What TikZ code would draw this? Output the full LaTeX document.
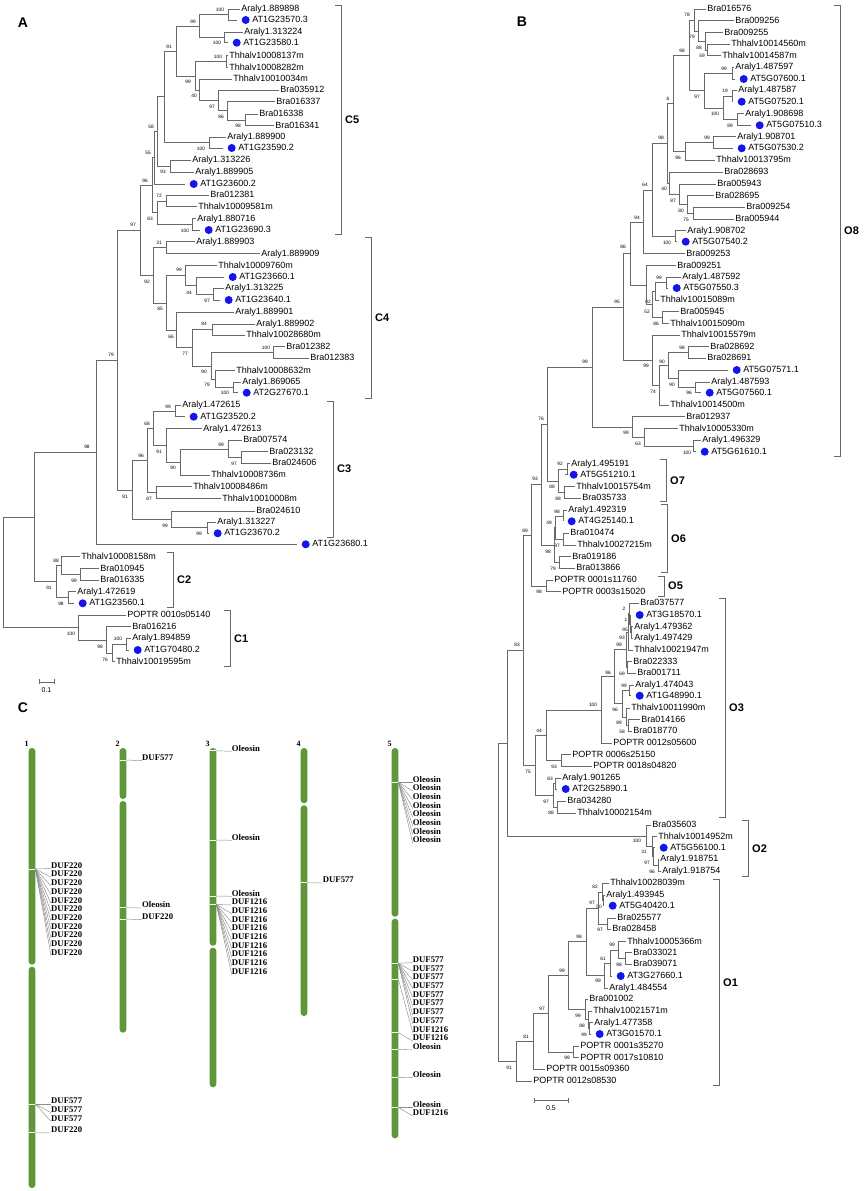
\documentclass[tikz,border=0pt]{standalone}
\usepackage{fontspec}
\setmainfont{Liberation Sans}
\newfontfamily\chrfont{Liberation Serif}

\definecolor{treeline}{RGB}{105,105,105}
\definecolor{atblue}{RGB}{20,20,235}
\definecolor{chrgreen}{RGB}{95,150,60}
\definecolor{leadergray}{RGB}{140,140,140}

\tikzset{
  leaf/.style={anchor=west, inner sep=1.2pt, text height=6.5pt, text depth=1.8pt, font=\fontsize{9}{10}\selectfont},
  atleaf/.style={leaf, execute at begin node={\hspace*{14pt}},
    path picture={\fill[atblue] ([xshift=8.5pt]path picture bounding box.west) circle (4pt);}},
  boot/.style={inner sep=0pt, font=\fontsize{4.8}{5}\selectfont},
  branch/.style={draw=treeline, line width=0.6pt},
  bracket/.style={draw=treeline, line width=0.8pt},
  clade/.style={anchor=west, inner sep=0pt, font=\bfseries\fontsize{11}{12}\selectfont},
  panel/.style={inner sep=0pt, font=\bfseries\fontsize{14}{16}\selectfont},
  scalelbl/.style={inner sep=0pt, font=\fontsize{7}{8}\selectfont},
  chrom/.style={fill=chrgreen, rounded corners=3.3pt},
  chrnum/.style={inner sep=0pt, font=\chrfont\bfseries\fontsize{8}{9}\selectfont},
  chrlbl/.style={anchor=south west, inner sep=0pt, font=\chrfont\bfseries\fontsize{8.7}{9}\selectfont},
  marktick/.style={draw=white, line width=0.6pt},
  leader/.style={draw=leadergray, line width=0.45pt}
}

\begin{document}
\begin{tikzpicture}[x=1pt, y=-1pt]
  \useasboundingbox (0,0) rectangle (863,1191);

  % panel letters
  \node[panel] (pA) at (23,23) {A};
  \node[panel] (pB) at (522,22) {B};
  \node[panel] (pC) at (23,708) {C};

  % ---------- A: leaves ----------
  \foreach \n/\x/\y/\t/\s in {
      a1/240/9/Araly1.889898/leaf, a2/237/20/AT1G23570.3/atleaf,
      a3/243/32.3/Araly1.313224/leaf, a4/228/42.7/AT1G23580.1/atleaf,
      a5/228/55.7/Thhalv10008137m/leaf, a6/228/67.7/Thhalv10008282m/leaf,
      a7/232/79.3/Thhalv10010034m/leaf, a8/279/90.3/Bra035912/leaf,
      a9/275/101.7/Bra016337/leaf, a10/258/114/Bra016338/leaf,
      a11/274/125.7/Bra016341/leaf, a12/226/137/Araly1.889900/leaf,
      a13/223/148/AT1G23590.2/atleaf, a14/191/160.3/Araly1.313226/leaf,
      a15/194/172/Araly1.889905/leaf, a16/185/184/AT1G23600.2/atleaf,
      a17/209/195/Bra012381/leaf, a18/197/206.7/Thhalv10009581m/leaf,
      a19/196/218.7/Araly1.880716/leaf, a20/200/230/AT1G23690.3/atleaf,
      a21/195/241.7/Araly1.889903/leaf, a22/260/253.7/Araly1.889909/leaf,
      a23/217/265.7/Thhalv10009760m/leaf, a24/224/277/AT1G23660.1/atleaf,
      a25/224/288.3/Araly1.313225/leaf, a26/220/300/AT1G23640.1/atleaf,
      a27/234/312.3/Araly1.889901/leaf, a28/255/324/Araly1.889902/leaf,
      a29/245/335/Thhalv10028680m/leaf, a30/285/346.7/Bra012382/leaf,
      a31/309/358.3/Bra012383/leaf, a32/235/370.7/Thhalv10008632m/leaf,
      a33/241/382/Araly1.869065/leaf, a34/238/392.7/AT2G27670.1/atleaf,
      a35/181/405.3/Araly1.472615/leaf, a36/185/416.7/AT1G23520.2/atleaf,
      a37/202/428.7/Araly1.472613/leaf, a38/242/440/Bra007574/leaf,
      a39/268/451.7/Bra023132/leaf, a40/271/463.3/Bra024606/leaf,
      a41/210/475/Thhalv10008736m/leaf, a42/192/486.7/Thhalv10008486m/leaf,
      a43/221/498.7/Thhalv10010008m/leaf, a44/255/511/Bra024610/leaf,
      a45/216/522/Araly1.313227/leaf, a46/209/533.3/AT1G23670.2/atleaf,
      a47/297/544.3/AT1G23680.1/atleaf, a48/80/556.7/Thhalv10008158m/leaf,
      a49/99/568.7/Bra010945/leaf, a50/99/580/Bra016335/leaf,
      a51/76/591.7/Araly1.472619/leaf, a52/74/603.3/AT1G23560.1/atleaf,
      a53/126/615/POPTR 0010s05140/leaf, a54/131/626.7/Bra016216/leaf,
      a55/131/638.3/Araly1.894859/leaf, a56/129/650/AT1G70480.2/atleaf,
      a57/115/661.7/Thhalv10019595m/leaf}
    \node[\s] (\n) at (\x,\y) {\t};

  % ---------- A: inner nodes, branches, bootstrap ----------
  \foreach \p/\x/\y/\ca/\cb/\bs/\bx/\by in {
      n1/228/14.5/a1/a2/100/220/10, n2/224/37.5/a3/a4/100/217/43,
      n3/199/26/n1/n2/99/193/22, n4/226/61.7/a5/a6/100/218/57,
      n5/245/119.8/a10/a11/98/238/126, n6/227/110.7/a9/n5/86/221/117,
      n7/218/100.5/a8/n6/97/212/107, n8/199/89.9/a7/n7/40/194/96,
      n9/195/75.8/n4/n8/99/188/82, n10/176/50.9/n3/n9/91/169/47,
      n11/209/142.5/a12/a13/100/201/149} {
    \coordinate (\p) at (\x,\y);
    \draw[branch] (\p) |- (\ca) (\p) |- (\cb);
    \node[boot] (b\p) at (\bx,\by) {\bs};
  }
  \coordinate (n12) at (164,96.7);
  \draw[branch] (n12) |- (n10) (n12) |- (n11);
  \foreach \p/\x/\y/\ca/\cb/\bs/\bx/\by in {
      n13/170/166.2/a14/a15/93/163/172, n14/157/131.4/n12/n13/58/151/127,
      n15/154/157.7/n14/a16/55/148/153, n16/166/200.8/a17/a18/72/159/196,
      n17/192/224.3/a19/a20/100/185/231, n18/157/212.6/n16/n17/83/150/219,
      n19/152/185.1/n15/n18/96/145/181, n20/166/247.7/a21/a22/31/159/243,
      n21/213/294.2/a25/a26/97/207/301, n22/196/285.6/a24/n21/44/189/293,
      n23/185/275.6/a23/n22/99/179/270, n24/212/329.5/a28/a29/84/204/324,
      n25/273/352.5/a30/a31/100/266/348, n26/233/387.3/a33/a34/100/225/393,
      n27/215/379/a32/n26/79/207/385, n28/211/365.8/n25/n27/90/204/372,
      n29/192/347.6/n24/n28/77/185/354, n30/176/330/a27/n29/66/171/337,
      n31/166/302.8/n23/n30/85/160/309, n32/153/275.2/n20/n31/92/147/282,
      n33/140/230.2/n19/n32/97/133/225, n34/175/411/a35/a36/99/168/407,
      n35/241/457.5/a39/a40/97/234/464, n36/228/448.8/a38/n35/99/221/445,
      n37/180/461.9/n36/a41/90/173/468, n38/166/445.3/a37/n37/91/159/452,
      n39/153/428.2/n34/n38/68/147/424, n40/156/492.7/a42/a43/87/149/499,
      n41/147/460.5/n39/n40/96/141/456, n42/207/527.7/a45/a46/99/199/534,
      n43/171/519.3/a44/n42/99/165/526, n44/132/489.9/n41/n43/81/125/497,
      n45/117/360.1/n33/n44/79/111/355, n46/96/452.2/n45/a47/98/87/447,
      n47/80/574.3/a49/a50/99/74/581, n48/61/565.5/a48/n47/88/56/561,
      n49/68/597.5/a51/a52/98/61/604, n50/56/581.5/n48/n49/91/49/588,
      n52/126/644.2/a55/a56/100/118/639, n53/112/653/n52/a57/76/105/660,
      n54/106/639.8/a54/n53/98/100/647, n55/78/627.4/a53/n54/100/71/634} {
    \coordinate (\p) at (\x,\y);
    \draw[branch] (\p) |- (\ca) (\p) |- (\cb);
    \node[boot] (b\p) at (\bx,\by) {\bs};
  }
  \coordinate (n51) at (34,516.9);
  \coordinate (n56) at (3,572.2);
  \draw[branch] (n51) |- (n46) (n51) |- (n50);
  \draw[branch] (n56) |- (n51) (n56) |- (n55);

  % ---------- B: leaves ----------
  \foreach \n/\x/\y/\t/\s in {
      b1/706/9/Bra016576/leaf, b2/734/20.7/Bra009256/leaf,
      b3/723/32.7/Bra009255/leaf, b4/730/44/Thhalv10014560m/leaf,
      b5/721/55.7/Thhalv10014587m/leaf, b6/734/67.3/Araly1.487597/leaf,
      b7/735/79/AT5G07600.1/atleaf, b8/737/90.3/Araly1.487587/leaf,
      b9/733/101.7/AT5G07520.1/atleaf, b10/744/113.7/Araly1.908698/leaf,
      b11/751/125.3/AT5G07510.3/atleaf, b12/736/136.7/Araly1.908701/leaf,
      b13/733/148.3/AT5G07530.2/atleaf, b14/715/160.3/Thhalv10013795m/leaf,
      b15/723/172/Bra028693/leaf, b16/716/184/Bra005943/leaf,
      b17/714/195.7/Bra028695/leaf, b18/745/207/Bra009254/leaf,
      b19/734/219/Bra005944/leaf, b20/686/230.7/Araly1.908702/leaf,
      b21/677/241.7/AT5G07540.2/atleaf, b22/685/253.7/Bra009253/leaf,
      b23/676/265.7/Bra009251/leaf, b24/681/277.3/Araly1.487592/leaf,
      b25/668/288/AT5G07550.3/atleaf, b26/659/300.3/Thhalv10015089m/leaf,
      b27/679/311.7/Bra005945/leaf, b28/669/323.7/Thhalv10015090m/leaf,
      b29/680/335/Thhalv10015579m/leaf, b30/709/346.7/Bra028692/leaf,
      b31/706/358.3/Bra028691/leaf, b32/728/370/AT5G07571.1/atleaf,
      b33/710/382/Araly1.487593/leaf, b34/701/392.7/AT5G07560.1/atleaf,
      b35/669/405/Thhalv10014500m/leaf, b36/685/416.7/Bra012937/leaf,
      b37/678/428.7/Thhalv10005330m/leaf, b38/701/440/Araly1.496329/leaf,
      b39/696/451.7/AT5G61610.1/atleaf, b40/570/463.7/Araly1.495191/leaf,
      b41/565/474.7/AT5G51210.1/atleaf, b42/575/486.7/Thhalv10015754m/leaf,
      b43/581/498.3/Bra035733/leaf, b44/567/510.3/Araly1.492319/leaf,
      b45/563/521.3/AT4G25140.1/atleaf, b46/569/533.3/Bra010474/leaf,
      b47/576/545/Thhalv10027215m/leaf, b48/571/556.7/Bra019186/leaf,
      b49/575/568.3/Bra013866/leaf, b50/553/580/POPTR 0001s11760/leaf,
      b51/561/591.7/POPTR 0003s15020/leaf, b52/639/603.3/Bra037577/leaf,
      b53/631/615/AT3G18570.1/atleaf, b54/633/626.7/Araly1.479362/leaf,
      b55/633/638.3/Araly1.497429/leaf, b56/633/650/Thhalv10021947m/leaf,
      b57/632/661.7/Bra022333/leaf, b58/636/673.3/Bra001711/leaf,
      b59/634/685/Araly1.474043/leaf, b60/631/695.7/AT1G48990.1/atleaf,
      b61/630/708/Thhalv10011990m/leaf, b62/640/719.7/Bra014166/leaf,
      b63/632/731.3/Bra018770/leaf, b64/612/743/POPTR 0012s05600/leaf,
      b65/571/754.7/POPTR 0006s25150/leaf, b66/592/766.3/POPTR 0018s04820/leaf,
      b67/561/778.3/Araly1.901265/leaf, b68/557/789/AT2G25890.1/atleaf,
      b69/566/801.3/Bra034280/leaf, b70/576/813.3/Thhalv10002154m/leaf,
      b71/651/825/Bra035603/leaf, b72/657/836.7/Thhalv10014952m/leaf,
      b73/655/847.7/AT5G56100.1/atleaf, b74/659/859.3/Araly1.918751/leaf,
      b75/661/871/Araly1.918754/leaf, b76/609/883.3/Thhalv10028039m/leaf,
      b77/605/895/Araly1.493945/leaf, b78/604/905.7/AT5G40420.1/atleaf,
      b79/616/918.3/Bra025577/leaf, b80/611/929.3/Bra028458/leaf,
      b81/626/941.7/Thhalv10005366m/leaf, b82/632/952.7/Bra033021/leaf,
      b83/632/964.3/Bra039071/leaf, b84/612/976/AT3G27660.1/atleaf,
      b85/608/988/Araly1.484554/leaf, b86/588/999.3/Bra001002/leaf,
      b87/592/1011/Thhalv10021571m/leaf, b88/593/1022.7/Araly1.477358/leaf,
      b89/591/1034/AT3G01570.1/atleaf, b90/579/1046/POPTR 0001s35270/leaf,
      b91/579/1057.7/POPTR 0017s10810/leaf, b92/545/1069.3/POPTR 0015s09360/leaf,
      b93/532/1081/POPTR 0012s08530/leaf}
    \node[\s] (\n) at (\x,\y) {\t};

  % ---------- B: inner nodes, branches, bootstrap ----------
  \foreach \p/\x/\y/\ca/\cb/\bs/\bx/\by in {
      m1/707/49.8/b4/b5/59/702/56, m2/705/41.3/b3/m1/88/699/48,
      m3/698/31/b2/m2/79/692/37, m4/694/20/b1/m3/78/687/15,
      m5/732/73.2/b6/b7/99/724/69, m6/732/96/b8/b9/19/725/91,
      m7/737/119.5/b10/b11/89/730/126, m8/723/107.8/m6/m7/100/715/114,
      m9/704/90.5/m5/m8/97/697/97, m10/689/55.3/m4/m9/98/682/51,
      m11/713/142.5/b12/b13/99/707/138, m12/685/151.4/m11/b14/96/678/158,
      m13/673/103.4/m10/m12/6/668/99, m14/693/213/b18/b19/75/686/220,
      m15/687/204.4/b17/m14/80/681/211, m16/679/194.2/b16/m15/87/673/201,
      m17/669/183.1/b15/m16/40/664/189, m18/667/143.3/m13/m17/98/661/138,
      m19/675/236.2/b20/b21/100/667/243, m20/652/189.8/m18/m19/64/645/185,
      m21/643/221.8/m20/b22/94/637/218, m22/666/282.7/b24/b25/99/659/278,
      m23/655/291.5/m22/b26/82/648/302, m24/662/317.7/b27/b28/86/656/324,
      m25/652/304.6/m23/m24/52/647/312} {
    \coordinate (\p) at (\x,\y);
    \draw[branch] (\p) |- (\ca) (\p) |- (\cb);
    \node[boot] (b\p) at (\bx,\by) {\bs};
  }
  \coordinate (m26) at (646,285.2);
  \draw[branch] (m26) |- (b23) (m26) |- (m25);
  \foreach \p/\x/\y/\ca/\cb/\bs/\bx/\by in {
      m27/630/253.5/m21/m26/86/623/247, m28/688/352.5/b30/b31/98/682/348,
      m29/695/387.3/b33/b34/96/689/393, m30/678/378.7/b32/m29/90/672/385,
      m31/668/365.6/m28/m30/90/662/362, m32/659/385.3/m31/b35/74/653/392,
      m33/652/360.2/b29/m32/99/646/366, m34/623/306.9/m27/m33/95/617/302,
      m35/693/445.8/b38/b39/100/687/453, m36/644/437.3/b37/m35/63/638/444,
      m37/632/427/b36/m36/99/626/433, m38/592/367/m34/m37/99/585/362,
      m39/567/469.2/b40/b41/92/560/464, m40/564/492.5/b42/b43/88/558/499,
      m41/558/480.9/m39/m40/88/552/487, m42/547/424/m38/m41/76/541/419,
      m43/563/515.8/b44/b45/98/557/512, m44/563/539.2/b46/b47/97/557/546,
      m45/555/527.5/m43/m44/49/549/523, m46/559/562.5/b48/b49/79/553/569,
      m47/554/545/m45/m46/98/548/552, m48/541/484.5/m42/m47/93/535/479,
      m49/546/585.8/b50/b51/98/539/592, m50/531/535.2/m48/m49/89/525/531,
      m51/631/632.5/b54/b55/95/625/630, m52/630/623.8/b53/m51/1/626/620,
      m53/629/613.5/b52/m52/2/624/609, m54/628/631.8/m53/b56/93/622/638,
      m55/627/667.5/b57/b58/69/622/674, m56/626/649.6/m54/m55/99/619/645,
      m57/629/690.3/b59/b60/99/624/686, m58/628/725.5/b62/b63/58/622/732,
      m59/626/716.8/b61/m58/89/619/723, m60/622/703.5/m57/m59/96/615/710,
      m61/614/676.6/m56/m60/96/608/673, m62/601/709.8/m61/b64/100/593/705,
      m63/561/760.5/b65/b66/93/554/767, m64/546/735.2/m62/m63/44/539/731,
      m65/555/783.7/b67/b68/83/550/779, m66/557/807.3/b69/b70/88/551/813,
      m67/553/795.5/m65/m66/97/546/802, m68/535/765.4/m64/m67/75/528/772,
      m69/523/650.3/m50/m68/83/517/645, m70/658/865.2/b74/b75/96/652/872,
      m71/653/856.4/b73/m70/97/647/863, m72/652/846.6/b72/m71/31/644/852,
      m73/646/835.8/b71/m72/100/637/841} {
    \coordinate (\p) at (\x,\y);
    \draw[branch] (\p) |- (\ca) (\p) |- (\cb);
    \node[boot] (b\p) at (\bx,\by) {\bs};
  }
  \foreach \p/\x/\y/\ca/\cb/\bs/\bx/\by in {
      m75/603/900.4/b77/b78/50/599/907, m76/602/891.8/b76/m75/82/595/887,
      m77/607/923.8/b79/b80/97/600/930, m78/598/907.8/m76/m77/97/592/903,
      m79/625/958.5/b82/b83/98/619/965, m80/618/950.1/b81/m79/99/612/945,
      m81/610/963/m80/b84/61/603/959, m82/604/975.5/m81/b85/99/598/981,
      m83/586/941.7/m78/m82/98/579/937, m84/589.5/1028.3/b88/b89/99/584/1035,
      m85/588.5/1019.7/b87/m84/88/582/1026, m86/585/1009.5/b86/m85/99/578/1016,
      m87/568/975.6/m83/m86/99/562/971, m88/573/1051.8/b90/b91/99/567/1058,
      m89/548/1013.7/m87/m88/97/542/1009, m90/533/1041.5/m89/b92/81/526/1037,
      m91/516/1061.3/m90/b93/91/509/1068} {
    \coordinate (\p) at (\x,\y);
    \draw[branch] (\p) |- (\ca) (\p) |- (\cb);
    \node[boot] (b\p) at (\bx,\by) {\bs};
  }
  \coordinate (m74) at (507,743);
  \coordinate (m92) at (498,902.2);
  \draw[branch] (m74) |- (m69) (m74) |- (m73);
  \draw[branch] (m92) |- (m74) (m92) |- (m91);

  % ---------- clade brackets ----------
  \foreach \n/\x/\ya/\yb in {C5/341/5/234, C4/371/237.7/398, C3/333/401/537,
      C2/173/552.7/607.7, C1/230/610.7/666, O8/840/5/456.7, O7/666/459/501.7,
      O6/667/504/572.7, O5/664/576/596, O3/725/598.3/817.7, O2/748/820.7/876,
      O1/719/879/1085.7} {
    \draw[bracket] (\x-6,\ya) -- (\x,\ya) -- (\x,\yb) -- (\x-6,\yb);
    \node[clade] (\n) at (\x+4,{(\ya+\yb)/2}) {\n};
  }

  % ---------- scale bars ----------
  \draw[branch] (39,679) -- (39,684) (39,682) -- (54,682) (54,679) -- (54,684);
  \node[scalelbl] (sA) at (46.5,690) {0.1};
  \draw[branch] (534,1097.5) -- (534,1102.5) (534,1100) -- (568,1100) (568,1097.5) -- (568,1102.5);
  \node[scalelbl] (sB) at (551,1108) {0.5};

  % ---------- C: chromosomes ----------
  \foreach \n/\x/\g/\e in {1/32/965.7/1188, 2/123/800/1032.7, 3/213/946.7/1087.3,
      4/304/804.3/1016, 5/395/917.7/1138.3} {
    \fill[chrom] (\x-3.4,748) rectangle (\x+3.4,\g-1);
    \fill[chrom] (\x-3.4,\g+1) rectangle (\x+3.4,\e);
    \node[chrnum] (chr\n) at (\x-5.5,744) {\n};
  }

  % ---------- C: gene markers and labels ----------
  \foreach \m/\x/\my/\lx/\ly/\t/\cnt in {
      p1/32/869/51/868.5/DUF220/10, p2/32/1104/51/1104/DUF577/2,
      p3/32/1132.7/51/1133/DUF220/0, p4/123/760/142/760.7/DUF577/0,
      p5/123/907.7/142/908/Oleosin/0, p6/123/919/142/919.7/DUF220/0,
      p7/213/750.7/231.7/751.3/Oleosin/0, p8/213/840/231.7/840.3/Oleosin/0,
      p9/213/896/231.7/896.3/Oleosin/0, p10/213/904.5/231.7/905/DUF1216/8,
      p11/304/882.7/322.7/883/DUF577/0, p12/395/782.3/412.7/782.3/Oleosin/7,
      p13/395/963.3/412.7/962.6/DUF577/7, p14/395/979.3/412.7/1032.4/DUF1216/0,
      p15/395/1032.7/412.7/1041.1/DUF1216/0, p16/395/1049.3/412.7/1050/Oleosin/0,
      p17/395/1077.3/412.7/1077.6/Oleosin/0, p18/395/1107.3/412.7/1107.3/Oleosin/0,
      p19/395/1107.3/412.7/1116/DUF1216/0} {
    \draw[marktick] (\x-3.4,\my) -- (\x+3.4,\my);
    \coordinate (\m) at (\x+3.4,\my);
    \foreach \k in {0,...,\cnt} {
      \node[chrlbl] (\m l\k) at (\lx,{\ly+\k*8.7}) {\t};
      \draw[leader] (\m) -- (\m l\k.south west);
    }
  }
\end{tikzpicture}
\end{document}
